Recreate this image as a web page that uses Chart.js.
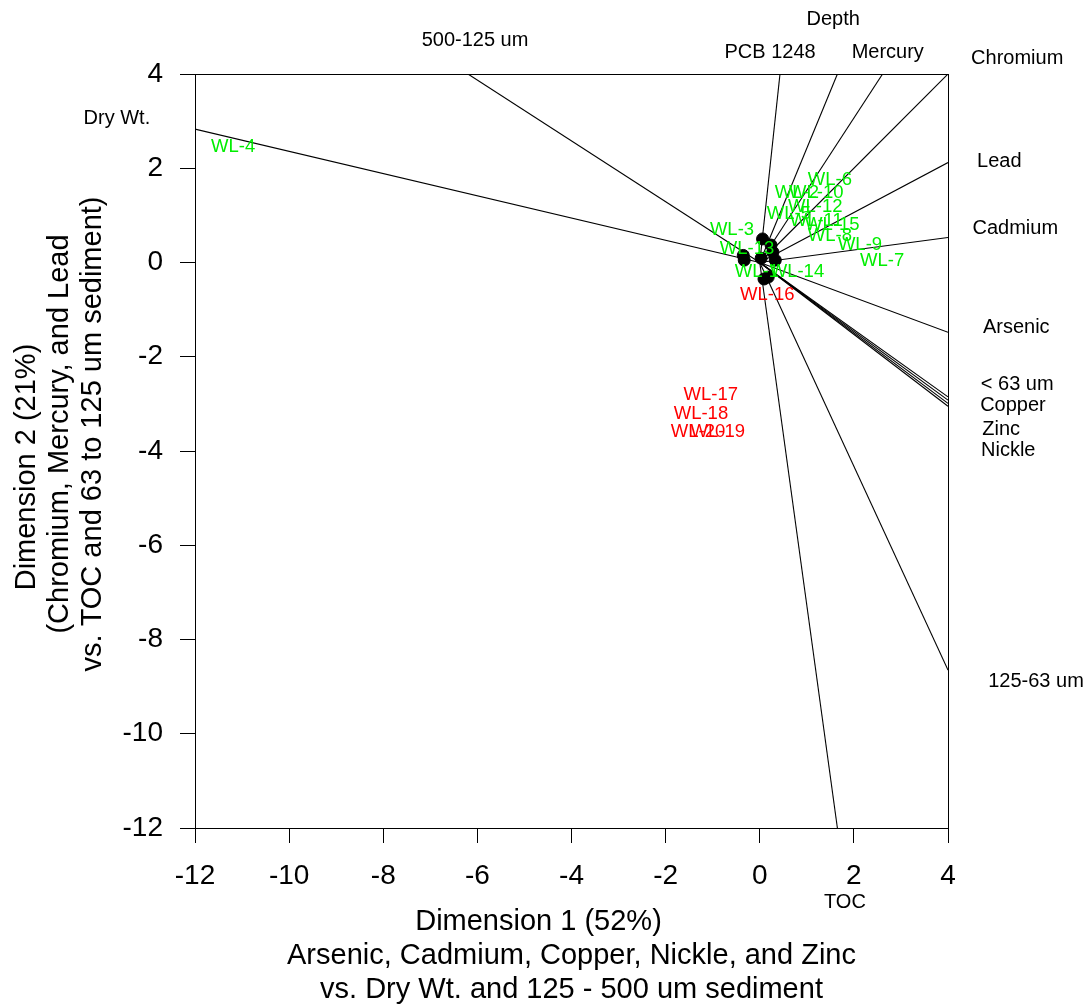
<!DOCTYPE html>
<html>
<head>
<meta charset="utf-8">
<title>Sediment biplot</title>
<script src="https://cdn.jsdelivr.net/npm/chart.js@4.4.0/dist/chart.umd.min.js"></script>
<style>
  html, body { margin: 0; padding: 0; background: #fff; }
  #wrap { width: 1092px; height: 1007px; }
</style>
</head>
<body>
<div id="wrap"><canvas id="biplot" width="1092" height="1007"></canvas></div>
<script>
// Environmental variables: direction of each vector (ends on the frame) and where its name sits
const varNames  = ['500-125 um', 'Dry Wt.', 'PCB 1248', 'Depth', 'Mercury', 'Chromium', 'Lead', 'Cadmium',
                   'Arsenic', '< 63 um', 'Copper', 'Zinc', 'Nickle', '125-63 um', 'TOC'];
const varEndX   = [-6.2, -12, 0.43, 1.65, 2.61, 4, 4, 4, 4, 4, 4, 4, 4, 4, 1.65];
const varEndY   = [4, 2.83, 4, 4, 4, 4, 2.12, 0.53, -1.48, -2.85, -2.92, -2.99, -3.05, -8.65, -12];
const varLabelX = [-6.05, -13.66, 0.22, 1.56, 2.72, 5.47, 5.09, 5.43, 5.45, 5.47, 5.38, 5.13, 5.28, 5.87, 1.81];
const varLabelY = [4.72, 3.06, 4.46, 5.16, 4.46, 4.33, 2.15, 0.72, -1.38, -2.58, -3.03, -3.54, -3.98, -8.89, -13.58];

// Sample sites (scores) and their group: 0 = upstream, 1 = downstream
const sampleNames = ['WL-1', 'WL-2', 'WL-3', 'WL-4', 'WL-5', 'WL-6', 'WL-7', 'WL-8', 'WL-9', 'WL-10',
                     'WL-11', 'WL-12', 'WL-13', 'WL-14', 'WL-15', 'WL-16', 'WL-17', 'WL-18', 'WL-19', 'WL-20'];
const sampleX = [-0.06, 0.79, -0.59, -11.19, 0.62, 1.49, 2.60, 1.49, 2.13, 1.20,
                 1.20, 1.18, -0.27, 0.79, 1.54, 0.16, -1.04, -1.25, -0.89, -1.31];
const sampleY = [-0.20, 1.47, 0.69, 2.45, 1.03, 1.75, 0.03, 0.56, 0.37, 1.47,
                 0.88, 1.18, 0.28, -0.20, 0.79, -0.69, -2.81, -3.22, -3.60, -3.60];
const sampleGroup = [0, 0, 0, 0, 0, 0, 0, 0, 0, 0, 0, 0, 0, 0, 0, 1, 1, 1, 1, 1];

// Variable points near the origin
const dotX = [0.06, -0.35, -0.33, 0.03, 0.24, 0.28, 0.33, 0.09, 0.18];
const dotY = [0.50, 0.15, 0.05, 0.09, 0.37, 0.22, 0.05, -0.35, -0.31];

// Axis ticks and titles
const tickValues = [-12, -10, -8, -6, -4, -2, 0, 2, 4];
const xTitle = ['Dimension 1 (52%)', 'Arsenic, Cadmium, Copper, Nickle, and Zinc', 'vs. Dry Wt. and 125 - 500 um sediment'];
const yTitle = ['Dimension 2 (21%)', '(Chromium, Mercury, and Lead', 'vs. TOC and 63 to 125 um sediment)'];

const FONT = '"Liberation Sans", Arial, Helvetica, sans-serif';
const groupColors = ['#00ee00', '#ff0000'];

function drawText(ctx, text, x, y, size, color, align, rot) {
  ctx.save();
  ctx.translate(x, y);
  if (rot) ctx.rotate(rot);
  ctx.font = size + 'px ' + FONT;
  ctx.fillStyle = color;
  ctx.textAlign = align || 'center';
  ctx.textBaseline = 'middle';
  ctx.fillText(text, 0, 0);
  ctx.restore();
}

// Sample names, drawn over the vectors and dots
const sampleLabels = {
  id: 'sampleLabels',
  afterDatasetsDraw(chart) {
    const { ctx, scales: { x, y } } = chart;
    sampleNames.forEach((name, i) => {
      drawText(ctx, name, x.getPixelForValue(sampleX[i]), y.getPixelForValue(sampleY[i]),
               18.5, groupColors[sampleGroup[i]]);
    });
  }
};

// Frame, variable names and the multi-line axis titles
const decorations = {
  id: 'decorations',
  afterDraw(chart) {
    const { ctx, chartArea: a, scales: { x, y } } = chart;
    ctx.save();
    ctx.strokeStyle = '#000';
    ctx.lineWidth = 1;
    ctx.strokeRect(Math.round(a.left) + 0.5, Math.round(a.top) + 0.5,
                   Math.round(a.right - a.left), Math.round(a.bottom - a.top));
    ctx.restore();

    varNames.forEach((name, i) => {
      drawText(ctx, name, x.getPixelForValue(varLabelX[i]), y.getPixelForValue(varLabelY[i]), 20, '#000');
    });

    // first title line sits a little toward the start of its axis
    const cx = (a.left + a.right) / 2;
    xTitle.forEach((line, i) => drawText(ctx, line, i === 0 ? cx - 33 : cx, 922 + i * 34, 29, '#000'));
    const cy = 434;
    yTitle.forEach((line, i) => drawText(ctx, line, 27 + i * 33, i === 0 ? cy + 33 : cy, 29, '#000', 'center', -Math.PI / 2));
  }
};

const vectorSets = varNames.map((name, i) => ({
  label: name,
  data: [{ x: 0, y: 0 }, { x: varEndX[i], y: varEndY[i] }],
  showLine: true,
  borderColor: '#000',
  borderWidth: 1.1,
  pointRadius: 0,
  order: 2
}));

const dotSet = {
  label: 'variables',
  data: dotX.map((v, i) => ({ x: v, y: dotY[i] })),
  backgroundColor: '#000',
  borderColor: '#000',
  pointRadius: 6,
  order: 1
};

const axisCommon = {
  type: 'linear',
  min: -12,
  max: 4,
  border: { display: false },
  grid: { drawOnChartArea: false, drawTicks: true, tickLength: 15, color: '#000', lineWidth: 1 },
  afterBuildTicks(scale) { scale.ticks = tickValues.map(v => ({ value: v })); }
};

new Chart(document.getElementById('biplot'), {
  type: 'scatter',
  data: { datasets: [dotSet, ...vectorSets] },
  options: {
    responsive: false,
    animation: false,
    devicePixelRatio: 1,
    layout: { padding: { top: 74, right: 144, bottom: 0, left: 0 } },
    plugins: { legend: { display: false }, tooltip: { enabled: false } },
    scales: {
      x: {
        ...axisCommon,
        ticks: { color: '#000', font: { family: FONT, size: 28 }, padding: 16, maxRotation: 0 },
        afterFit(scale) { scale.height = 179; }
      },
      y: {
        ...axisCommon,
        ticks: { color: '#000', font: { family: FONT, size: 28 }, padding: 17 },
        afterFit(scale) { scale.width = 195; }
      }
    }
  },
  plugins: [sampleLabels, decorations]
});
</script>
</body>
</html>
